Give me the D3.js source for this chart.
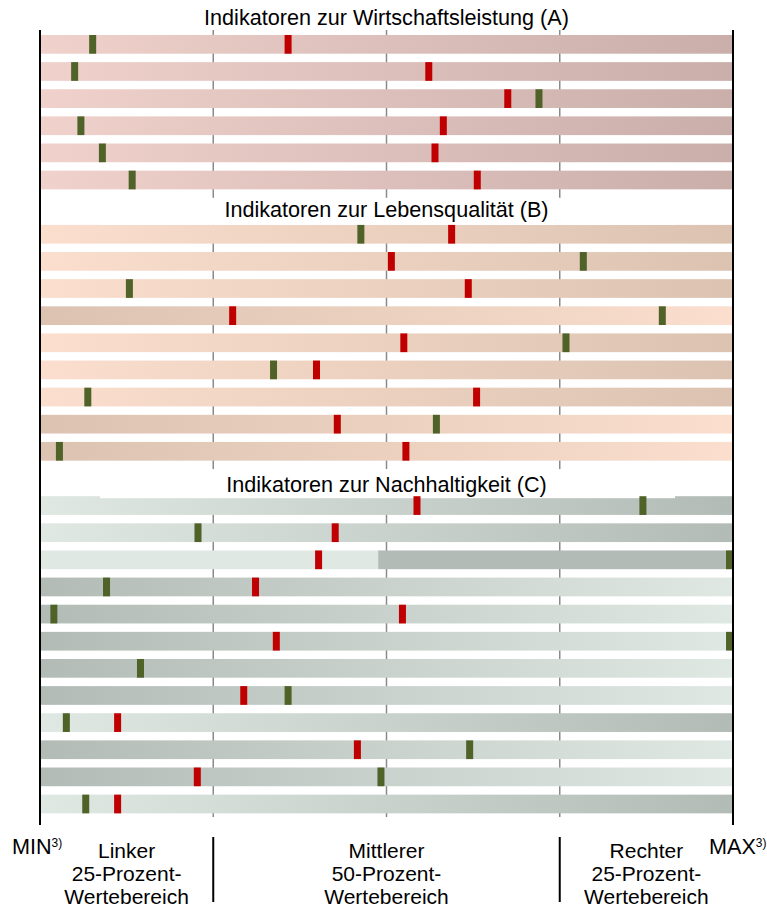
<!DOCTYPE html>
<html>
<head>
<meta charset="utf-8">
<script src="https://cdn.jsdelivr.net/npm/d3@7"></script>
<style>
  html, body { margin: 0; padding: 0; background: #fff; }
  svg { display: block; font-family: "Liberation Sans", Arial, sans-serif; }
</style>
</head>
<body>
<svg id="chart" width="767" height="910"></svg>
<script>
// ---------- data ----------
const sectionTitles = [
  "Indikatoren zur Wirtschaftsleistung (A)",
  "Indikatoren zur Lebensqualität (B)",
  "Indikatoren zur Nachhaltigkeit (C)"
];
// position of each indicator within its min..max range (0 = MIN, 100 = MAX)
const redA   = [35.8, 56.1, 67.5, 58.2, 57.0, 63.1];
const greenA = [7.6, 5.0, 72.0, 5.9, 9.0, 13.3];
const dirA   = [1, 1, 1, 1, 1, 1];

const redB   = [59.4, 50.7, 61.8, 27.8, 52.5, 39.9, 63.0, 42.9, 52.8];
const greenB = [46.3, 78.4, 12.9, 89.8, 75.9, 33.7, 6.9, 57.2, 2.8];
const dirB   = [1, 1, 1, -1, 1, 1, 1, -1, -1];

const redC   = [54.4, 42.6, 40.2, 31.1, 52.3, 34.1, null, 29.4, 11.2, 45.8, 22.7, 11.2];
const greenC = [87.0, 22.8, 99.5, 9.6, 2.0, 99.5, 14.5, 35.8, 3.8, 62.0, 49.2, 6.6];
// 1 = light→dark, -1 = dark→light, 0 = two-part step
const dirC   = [1, 1, 0, -1, -1, -1, -1, -1, 1, -1, -1, 1];
const stepC  = [null, null, 48.8, null, null, null, null, null, null, null, null, null];

const quartileTicks = [25, 50, 75];
const rangeLabels = [
  ["Linker", "25-Prozent-", "Wertebereich"],
  ["Mittlerer", "50-Prozent-", "Wertebereich"],
  ["Rechter", "25-Prozent-", "Wertebereich"]
];
const rangeBounds = [0, 25, 75, 100];

// ---------- layout ----------
const svg = d3.select("#chart");
const x = d3.scaleLinear().domain([0, 100]).range([40, 733]);
const FS = 21.6;

const sections = [
  {title: sectionTitles[0], red: redA, green: greenA, dir: dirA, step: dirA.map(() => null),
   light: "#f0d1cc", dark: "#c9aea9", dy: -1.2},
  {title: sectionTitles[1], red: redB, green: greenB, dir: dirB, step: dirB.map(() => null),
   light: "#fbdecd", dark: "#dcc3b1", dy: 1},
  {title: sectionTitles[2], red: redC, green: greenC, dir: dirC, step: stepC,
   light: "#dfe8e3", dark: "#b2bbb5", dy: 4.7}
];

let slot = 0;
const titleSlots = [];
const rows = [];
sections.forEach((s, si) => {
  titleSlots.push({slot: slot++, sec: s, si});
  s.red.forEach((r, i) => {
    rows.push({slot: slot++, sec: s, si, red: r, green: s.green[i], dir: s.dir[i], step: s.step[i]});
  });
});

const y = d3.scaleBand().domain(d3.range(slot))
  .range([3.66, 817.56]).paddingInner(0.31).paddingOuter(0.155);
const bw = y.bandwidth();

// gradients
const defs = svg.append("defs");
sections.forEach((s, si) => {
  [1, -1].forEach(d => {
    const g = defs.append("linearGradient")
      .attr("id", `g${si}_${d > 0 ? "up" : "down"}`)
      .attr("gradientUnits", "userSpaceOnUse")
      .attr("x1", x(0)).attr("x2", x(100)).attr("y1", 0).attr("y2", 0);
    g.append("stop").attr("offset", 0).attr("stop-color", d > 0 ? s.light : s.dark);
    g.append("stop").attr("offset", 1).attr("stop-color", d > 0 ? s.dark : s.light);
  });
});

// gridlines
svg.append("g").selectAll("line").data(quartileTicks).join("line")
  .attr("x1", d => x(d)).attr("x2", d => x(d))
  .attr("y1", 30).attr("y2", 817)
  .attr("stroke", "#8a8a8a").attr("stroke-width", 1.5);

// bars
const barG = svg.append("g");
rows.forEach(r => {
  if (r.dir === 0) {
    barG.append("rect").attr("x", x(0)).attr("y", y(r.slot))
      .attr("width", x(r.step) - x(0)).attr("height", bw).attr("fill", r.sec.light);
    barG.append("rect").attr("x", x(r.step)).attr("y", y(r.slot))
      .attr("width", x(100) - x(r.step)).attr("height", bw).attr("fill", r.sec.dark);
  } else {
    barG.append("rect").attr("x", x(0)).attr("y", y(r.slot))
      .attr("width", x(100) - x(0)).attr("height", bw)
      .attr("fill", `url(#g${r.si}_${r.dir > 0 ? "up" : "down"})`);
  }
});

// title boxes & titles
titleSlots.forEach((t, i) => {
  if (i > 0) {
    const top = y(t.slot);
    const bottom = y(t.slot + 1) + (i === 2 ? 2 : 0);
    svg.append("rect").attr("x", 100).attr("width", 575)
      .attr("y", top).attr("height", bottom - top).attr("fill", "#fff");
  }
  svg.append("text")
    .attr("x", (x(0) + x(100)) / 2)
    .attr("y", y(t.slot) + bw + t.sec.dy)
    .attr("text-anchor", "middle")
    .attr("font-size", FS).attr("fill", "#000")
    .text(t.sec.title);
});

// markers
const mw = 7;
const markG = svg.append("g");
markG.selectAll("rect.red").data(rows.filter(r => r.red != null)).join("rect")
  .attr("class", "red")
  .attr("x", d => x(d.red) - mw / 2).attr("y", d => y(d.slot))
  .attr("width", mw).attr("height", bw).attr("fill", "#c00000");
markG.selectAll("rect.green").data(rows.filter(r => r.green != null)).join("rect")
  .attr("class", "green")
  .attr("x", d => Math.min(x(d.green) - mw / 2, x(100) - mw + 1)).attr("y", d => y(d.slot))
  .attr("width", mw).attr("height", bw).attr("fill", "#4f6228");

// min / max axis lines
svg.append("g").selectAll("line").data([0, 100]).join("line")
  .attr("x1", d => x(d)).attr("x2", d => x(d))
  .attr("y1", 30).attr("y2", 825)
  .attr("stroke", "#000").attr("stroke-width", 2);

// MIN / MAX labels
[["MIN", 0, -28], ["MAX", 100, -24]].forEach(([lab, v, off]) => {
  const t = svg.append("text")
    .attr("x", x(v) + off).attr("y", 854)
    .attr("text-anchor", "start").attr("font-size", FS).attr("fill", "#000");
  t.append("tspan").text(lab);
  t.append("tspan").attr("font-size", 12).attr("dy", -7).text("3)");
});

// range separators
svg.append("g").selectAll("line").data([25, 75]).join("line")
  .attr("x1", d => x(d)).attr("x2", d => x(d))
  .attr("y1", 837).attr("y2", 902)
  .attr("stroke", "#000").attr("stroke-width", 2);

// range labels
rangeLabels.forEach((lines, i) => {
  const cx = (x(rangeBounds[i]) + x(rangeBounds[i + 1])) / 2;
  lines.forEach((l, j) => {
    svg.append("text").attr("text-anchor", "middle")
      .attr("font-size", 21).attr("fill", "#000")
      .attr("x", cx).attr("y", 858 + j * 23).text(l);
  });
});
</script>
</body>
</html>
